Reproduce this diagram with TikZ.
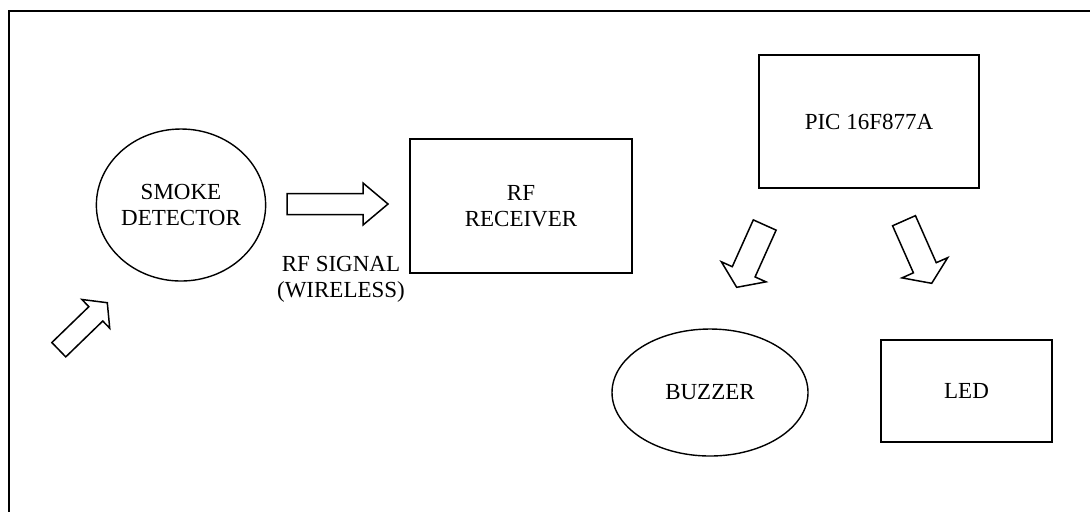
\documentclass[tikz,border=0pt]{standalone}
\usepackage{fontspec}
\setmainfont{Liberation Serif}
\usetikzlibrary{calc,shapes.geometric}
% #1 name (coordinates #1-s and #1-t), #2 half shaft width, #3 half head width, #4 head length
\newcommand\blockarrow[4]{%
  \coordinate (#1-h) at ($(#1-t)!#4!(#1-s)$);
  \draw[barrow] ($(#1-s)!#2!90:(#1-t)$) -- ($(#1-h)!#2!90:(#1-t)$)
    -- ($(#1-h)!#3!90:(#1-t)$) -- (#1-t) -- ($(#1-h)!#3!-90:(#1-t)$)
    -- ($(#1-h)!#2!-90:(#1-t)$) -- ($(#1-s)!#2!-90:(#1-t)$) -- cycle;}
\begin{document}
\begin{tikzpicture}[x=0.5pt,y=-0.5pt,
  every node/.style={font=\fontsize{11.5}{13}\selectfont, align=center},
  box/.style={draw, line width=0.7pt, inner sep=0pt},
  oval/.style={draw, ellipse, line width=0.7pt, inner sep=0pt},
  barrow/.style={draw, line width=0.75pt, line join=miter},
  frame/.style={draw, line width=1.1pt}]
\clip (0,0) rectangle (1090,511);
\draw[frame] (9,530) -- (9,11) -- (1110,11);

\node[oval, minimum width=81pt, minimum height=76pt] (smoke) at (181,205) {SMOKE\\DETECTOR};
\node[box, minimum width=111pt, minimum height=67pt] (rfr) at (521,206) {RF\\RECEIVER};
\node[box, minimum width=110pt, minimum height=66.5pt] (pic) at (869,121.5) {PIC 16F877A};
\node[oval, minimum width=98pt, minimum height=63.5pt] (buzzer) at (710,392.5) {BUZZER};
\node[box, minimum width=85.5pt, minimum height=51pt] (led) at (966.5,391) {LED};
\node[inner sep=0pt] (sig) at (341,279) {RF SIGNAL\\(WIRELESS)};

\coordinate (rf-s) at (287,204);
\coordinate (rf-t) at (388,204);
\blockarrow{rf}{5.25pt}{10.5pt}{12.5pt}

\coordinate (bz-s) at (764.7,225);
\coordinate (bz-t) at (736.7,287.3);
\blockarrow{bz}{6.25pt}{12.25pt}{8.5pt}

\coordinate (ld-s) at (904,220.7);
\coordinate (ld-t) at (931.7,283.3);
\blockarrow{ld}{6.25pt}{12.5pt}{8.5pt}

\coordinate (in-s) at (58.8,349.7);
\coordinate (in-t) at (107.3,302.7);
\blockarrow{in}{5pt}{10pt}{8pt}
\end{tikzpicture}
\end{document}
